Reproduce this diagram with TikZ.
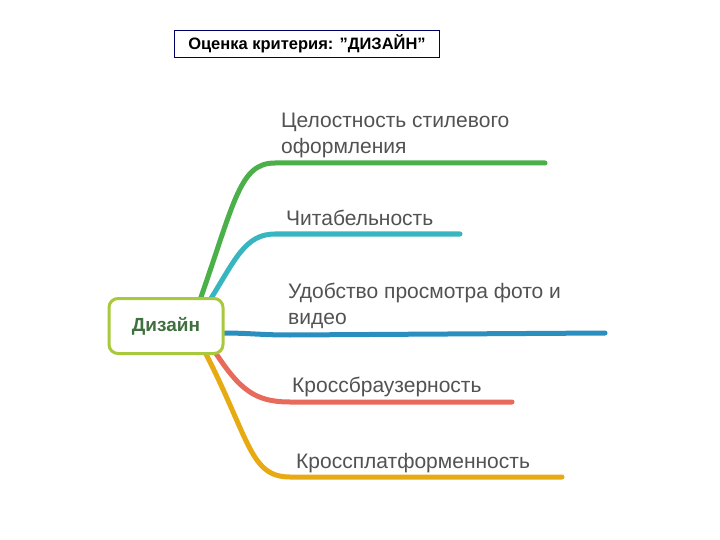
\documentclass[tikz,border=0pt]{standalone}
\usepackage{fontspec}
\setmainfont{Liberation Sans}
\begin{document}
\begin{tikzpicture}[x=1pt,y=-1pt,
 br/.style={line width=5pt,line cap=round},
 lbl/.style={anchor=west,text=black!68,font=\fontsize{21}{26}\selectfont,align=left,inner sep=0pt}]
\useasboundingbox[fill=white] (0,0) rectangle (720,540);
\definecolor{cg}{HTML}{4CB04A}\definecolor{ct}{HTML}{38B6C0}
\definecolor{cb}{HTML}{2A8FBF}\definecolor{cr}{HTML}{E86A5A}
\definecolor{co}{HTML}{E8AA12}\definecolor{cl}{HTML}{A9C93C}
\coordinate (g0) at (200,300); \coordinate (g1) at (545,163);
\coordinate (t0) at (210,300); \coordinate (t1) at (460,234);
\coordinate (b0) at (222,333); \coordinate (b1) at (605,333);
\coordinate (r0) at (215,352); \coordinate (r1) at (512,402);
\coordinate (o0) at (205,352); \coordinate (o1) at (562,477);
\draw[br,cg] (g0) .. controls (235,200) and (240,163) .. (275,163) -- (g1);
\draw[br,ct] (t0) .. controls (235,260) and (245,234) .. (275,234) -- (t1);
\draw[br,cb] (b0) .. controls (250,333) and (260,335) .. (290,335) -- (b1);
\draw[br,cr] (r0) .. controls (240,390) and (255,402) .. (290,402) -- (r1);
\draw[br,co] (o0) .. controls (250,440) and (250,477) .. (290,477) -- (o1);
\node[draw=cl,line width=3pt,fill=white,rounded corners=9pt,minimum width=114pt,minimum height=55pt,
 text=green!25!black!75,font=\fontsize{19}{22}\selectfont\bfseries] (c) at (166,326) {Дизайн};
\node[draw=black!60!blue,line width=0.6pt,minimum width=265pt,minimum height=27pt,inner sep=1pt,
 font=\fontsize{16.5}{18}\selectfont\bfseries] (title) at (307,44) {Оценка критерия: \symbol{34}ДИЗАЙН\symbol{34}};
\node[lbl] (l1) at (281,135) {Целостность стилевого\\оформления};
\node[lbl] (l2) at (286,218) {Читабельность};
\node[lbl] (l3) at (288,306) {Удобство просмотра фото и\\видео};
\node[lbl] (l4) at (292,387) {Кроссбраузерность};
\node[lbl] (l5) at (296,463) {Кроссплатформенность};
\end{tikzpicture}
\end{document}
